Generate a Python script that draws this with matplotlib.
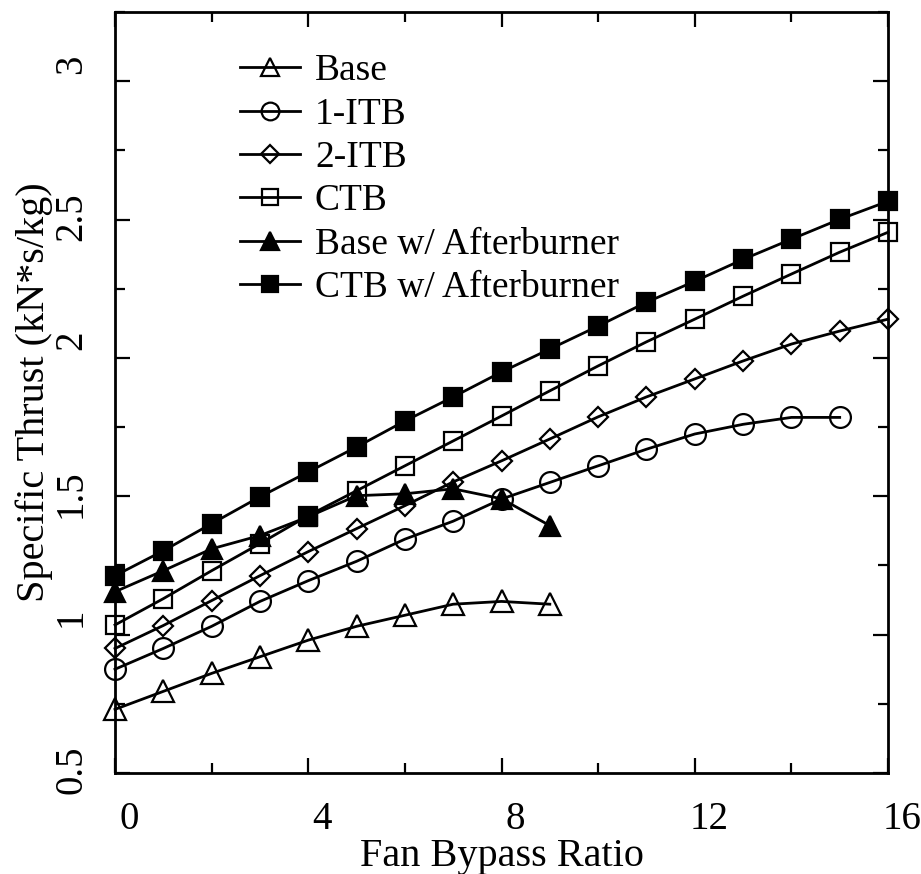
import matplotlib
matplotlib.use("Agg")
import matplotlib.pyplot as plt
from matplotlib.ticker import MultipleLocator
from matplotlib.transforms import ScaledTranslation

plt.rcParams["font.family"] = "serif"
plt.rcParams["font.serif"] = ["Liberation Serif", "DejaVu Serif"]

# values
bypass = list(range(17))
base = [0.73, 0.795, 0.86, 0.92, 0.98, 1.03, 1.07, 1.11, 1.12, 1.11]
itb1 = [0.875, 0.95, 1.03, 1.12, 1.195, 1.265, 1.345, 1.41, 1.49, 1.55,
        1.61, 1.67, 1.725, 1.76, 1.785, 1.785]
itb2 = [0.95, 1.033, 1.123, 1.213, 1.30, 1.383, 1.466, 1.552, 1.628, 1.707,
        1.787, 1.859, 1.924, 1.989, 2.05, 2.097, 2.14]
ctb = [1.035, 1.13, 1.231, 1.329, 1.43, 1.52, 1.61, 1.70, 1.79, 1.881,
       1.971, 2.058, 2.14, 2.223, 2.303, 2.382, 2.454]
base_ab = [1.155, 1.231, 1.31, 1.358, 1.426, 1.502, 1.509, 1.527, 1.491, 1.394]
ctb_ab = [1.213, 1.303, 1.401, 1.498, 1.588, 1.678, 1.772, 1.859, 1.949, 2.032,
          2.115, 2.201, 2.277, 2.356, 2.429, 2.501, 2.566]

x_major = [0, 4, 8, 12, 16]
y_major = [0.5, 1, 1.5, 2, 2.5, 3]
y_labels = ["0.5", "1", "1.5", "2", "2.5", "3"]

fig = plt.figure(figsize=(9.21, 8.74), dpi=100)
ax = fig.add_axes([115 / 921, 1 - 773 / 874, 773 / 921, 761 / 874])

lw = 2.0
common = dict(color="black", lw=lw, clip_on=False, markeredgewidth=1.6)
ax.plot(bypass[:len(base)], base, marker="^", ms=16, mfc="none", mec="black", label="Base", **common)
ax.plot(bypass[:len(itb1)], itb1, marker="o", ms=15, mfc="none", mec="black", label="1-ITB", **common)
ax.plot(bypass[:len(itb2)], itb2, marker="D", ms=10.5, mfc="none", mec="black", label="2-ITB", **common)
ax.plot(bypass[:len(ctb)], ctb, marker="s", ms=13, mfc="none", mec="black", label="CTB", **common)
# the scan shows a filled square instead of a triangle at BPR 4 on this curve
odd_pt = 4
ax.plot(bypass[:len(base_ab)], base_ab, marker="^", ms=15, mfc="black", mec="black",
        markevery=[i for i in range(len(base_ab)) if i != odd_pt],
        label="Base w/ Afterburner", **common)
ax.plot([bypass[odd_pt]], [base_ab[odd_pt]], marker="s", ms=13, color="black",
        ls="none", clip_on=False)
ax.plot(bypass[:len(ctb_ab)], ctb_ab, marker="s", ms=13, mfc="black", mec="black",
        label="CTB w/ Afterburner", **common)

ax.set_xlim(0, 16)
ax.set_ylim(0.5, 3.25)
ax.set_xticks(x_major)
ax.xaxis.set_minor_locator(MultipleLocator(2))
ax.set_yticks(y_major)
ax.set_yticklabels(y_labels)
ax.yaxis.set_minor_locator(MultipleLocator(0.25))

ax.tick_params(which="both", direction="in", top=True, right=True, width=1.6,
               labelsize=28)
ax.tick_params(axis="x", which="both", pad=20)
ax.tick_params(axis="y", which="both", pad=18)
ax.tick_params(which="major", length=11)
ax.tick_params(which="minor", length=7)
for s in ax.spines.values():
    s.set_linewidth(2.0)

ax.set_xlabel("Fan Bypass Ratio", fontsize=29, labelpad=0)
ax.set_ylabel("Specific Thrust (kN*s/kg)", fontsize=29, labelpad=0)

leg = ax.legend(loc="upper left", bbox_to_anchor=(240 / 921, 1 - 54 / 874),
                bbox_transform=fig.transFigure, frameon=False, fontsize=27,
                handlelength=1.6, handletextpad=0.4, labelspacing=0.235,
                borderpad=0, borderaxespad=0, markerscale=0.85)

# the scanned tick labels sit a little off their ticks
fig.canvas.draw()
for lab in ax.get_xticklabels():
    lab.set_transform(lab.get_transform() + ScaledTranslation(0.14, 0, fig.dpi_scale_trans))
for lab in ax.get_yticklabels():
    lab.set_rotation(90)
    lab.set_va("top")
    lab.set_transform(lab.get_transform() + ScaledTranslation(0, 0.27, fig.dpi_scale_trans))

fig.savefig("out.png", dpi=100)
